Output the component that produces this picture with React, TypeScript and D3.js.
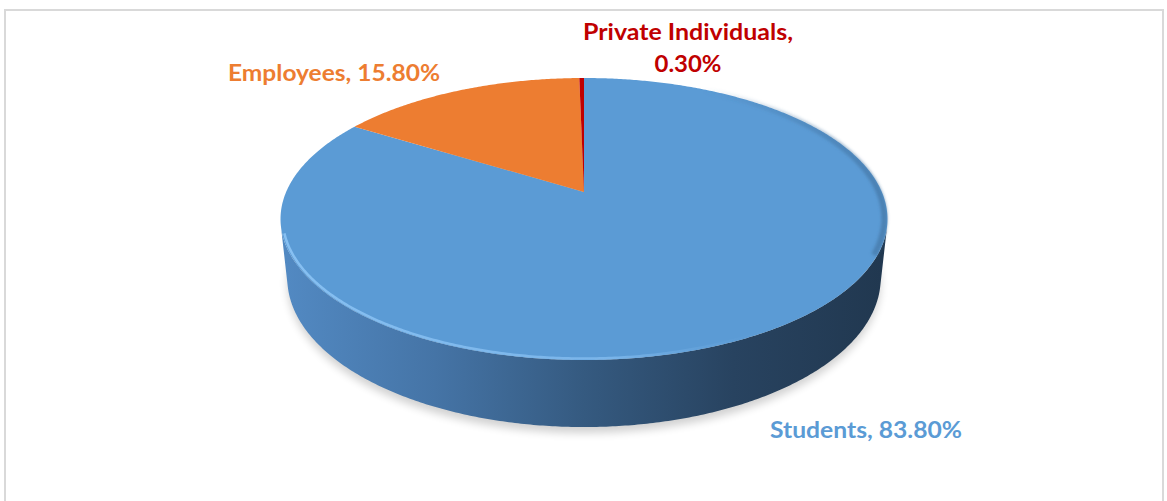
import React from "react";
import * as d3 from "d3";

const categories = ["Students", "Employees", "Private Individuals"];
const values = [83.8, 15.8, 0.3];
const labelLines = [["Students, 83.80%"], ["Employees, 15.80%"], ["Private Individuals,", "0.30%"]];
const colors = ["#5b9bd5", "#ed7d31", "#c00000"];
const labelColors = ["#5b9bd5", "#ed7d31", "#c00000"];

const W = 1167;
const H = 501;

// camera / projection parameters
const sinPhi = 0.456;
const phi = Math.asin(sinPhi);
const cP = Math.cos(phi);
const sP = Math.sin(phi);
const L = 4.648;
const F = 1384.5;
const CX = 584;
const CY = 192;
const DEPTH = 0.224;

function project(u: number, y: number, v: number): [number, number] {
  const sc = y * cP - v * sP;
  const t = y * sP + v * cP;
  return [CX + (F * u) / (L - t), CY - (F * sc) / (L - t)];
}
const disk = (a: number, r = 1, y = 0) => project(r * Math.sin(a), y, -r * Math.cos(a));

// label layout (anchor, baselines)
const labelLayout = [
  { x: 770, y: 438, anchor: "start", widths: [192], dy: 0 },
  { x: 228, y: 81, anchor: "start", widths: [212], dy: 0 },
  { x: 688, y: 40, anchor: "middle", widths: [210, 67], dy: 32 },
];

export default function App() {
  const pie = d3.pie<number>().sort(null).value((d) => d).startAngle(0).endAngle(2 * Math.PI);
  const arcs = pie(values);
  const line = d3.line();
  const step = Math.PI / 360;

  const slicePath = (a0: number, a1: number) => {
    const pts: [number, number][] = [project(0, 0, 0)];
    const n = Math.max(2, Math.ceil((a1 - a0) / step));
    for (let i = 0; i <= n; i++) pts.push(disk(a0 + ((a1 - a0) * i) / n));
    return line(pts)! + "Z";
  };

  // visible wall: v > 1/(L cos phi)
  const vLim = 1 / (L * cP);
  const aL = Math.PI + Math.acos(vLim);
  const aR = Math.PI - Math.acos(vLim);
  const wallPts: [number, number][] = [];
  const nW = 300;
  for (let i = 0; i <= nW; i++) wallPts.push(disk(aR + ((aL - aR) * i) / nW));
  for (let i = nW; i >= 0; i--) wallPts.push(disk(aR + ((aL - aR) * i) / nW, 1, -DEPTH));
  const wallPath = line(wallPts)! + "Z";

  // front rim highlight (slightly inside the top face edge)
  const rimPts: [number, number][] = [];
  for (let i = 0; i <= nW; i++) rimPts.push(disk(aR + 0.05 + ((aL - 0.05 - aR - 0.05) * i) / nW, 0.993));
  const rimPath = line(rimPts)!;

  // right-side bevel shading on top face
  const bevPts: [number, number][] = [];
  for (let i = 0; i <= 120; i++) bevPts.push(disk(0.35 + ((aR + 0.2 - 0.35) * i) / 120, 0.99));
  const bevelPath = line(bevPts)!;

  // shadow
  const shPts: [number, number][] = [];
  for (let i = 0; i <= 360; i++) shPts.push(disk((i / 360) * 2 * Math.PI, 1.0, -DEPTH - 0.01));
  const shadowPath = line(shPts)! + "Z";

  const left = project(-1, 0, 0)[0];
  const right = project(1, 0, 0)[0];

  return (
    <svg width={W} height={H} style={{ position: "absolute", left: 0, top: 0, background: "#fff" }}>
      <defs>
        <linearGradient id="wallGrad" gradientUnits="userSpaceOnUse" x1={left} y1={0} x2={right} y2={0}>
          <stop offset="0" stopColor="#5289c2" />
          <stop offset="0.25" stopColor="#4574a6" />
          <stop offset="0.5" stopColor="#355a80" />
          <stop offset="0.75" stopColor="#284360" />
          <stop offset="1" stopColor="#213850" />
        </linearGradient>
        <linearGradient id="rimGrad" gradientUnits="userSpaceOnUse" x1={left} y1={0} x2={right} y2={0}>
          <stop offset="0" stopColor="#8cc4f5" stopOpacity="0.9" />
          <stop offset="0.55" stopColor="#84bdf0" stopOpacity="0.75" />
          <stop offset="0.8" stopColor="#5b9bd5" stopOpacity="0.2" />
          <stop offset="1" stopColor="#5b9bd5" stopOpacity="0" />
        </linearGradient>
        <linearGradient id="bevGrad" gradientUnits="userSpaceOnUse" x1={left + (right - left) * 0.7} y1={0} x2={right} y2={0}>
          <stop offset="0" stopColor="#3f6f9c" stopOpacity="0" />
          <stop offset="1" stopColor="#3f6f9c" stopOpacity="0.6" />
        </linearGradient>
        <filter id="blur" x="-20%" y="-20%" width="140%" height="140%">
          <feGaussianBlur stdDeviation="4" />
        </filter>
        <filter id="soft" x="-10%" y="-10%" width="120%" height="120%">
          <feGaussianBlur stdDeviation="1.5" />
        </filter>
      </defs>
      <rect x={5} y={10} width={1158} height={520} fill="#fff" stroke="#d9d9d9" strokeWidth={2} />
      <path d={shadowPath} fill="#000" opacity={0.18} filter="url(#blur)" transform="translate(0,3)" />
      <path d={wallPath} fill="url(#wallGrad)" />
      {arcs.map((a, i) => (
        <path key={categories[i]} d={slicePath(a.startAngle, a.endAngle)} fill={colors[i]} />
      ))}
      <path d={bevelPath} fill="none" stroke="url(#bevGrad)" strokeWidth={6} filter="url(#soft)" />
      <path d={rimPath} fill="none" stroke="url(#rimGrad)" strokeWidth={2.5} />
      {labelLines.map((lines, i) =>
        lines.map((t, j) => (
          <text
            key={i + "-" + j}
            x={labelLayout[i].x}
            y={labelLayout[i].y + j * labelLayout[i].dy}
            textAnchor={labelLayout[i].anchor}
            fill={labelColors[i]}
            fontFamily="Lato, 'Open Sans', sans-serif"
            fontWeight="bold"
            fontSize={23}
            textLength={labelLayout[i].widths[j]}
            lengthAdjust="spacingAndGlyphs"
          >
            {t}
          </text>
        ))
      )}
    </svg>
  );
}
